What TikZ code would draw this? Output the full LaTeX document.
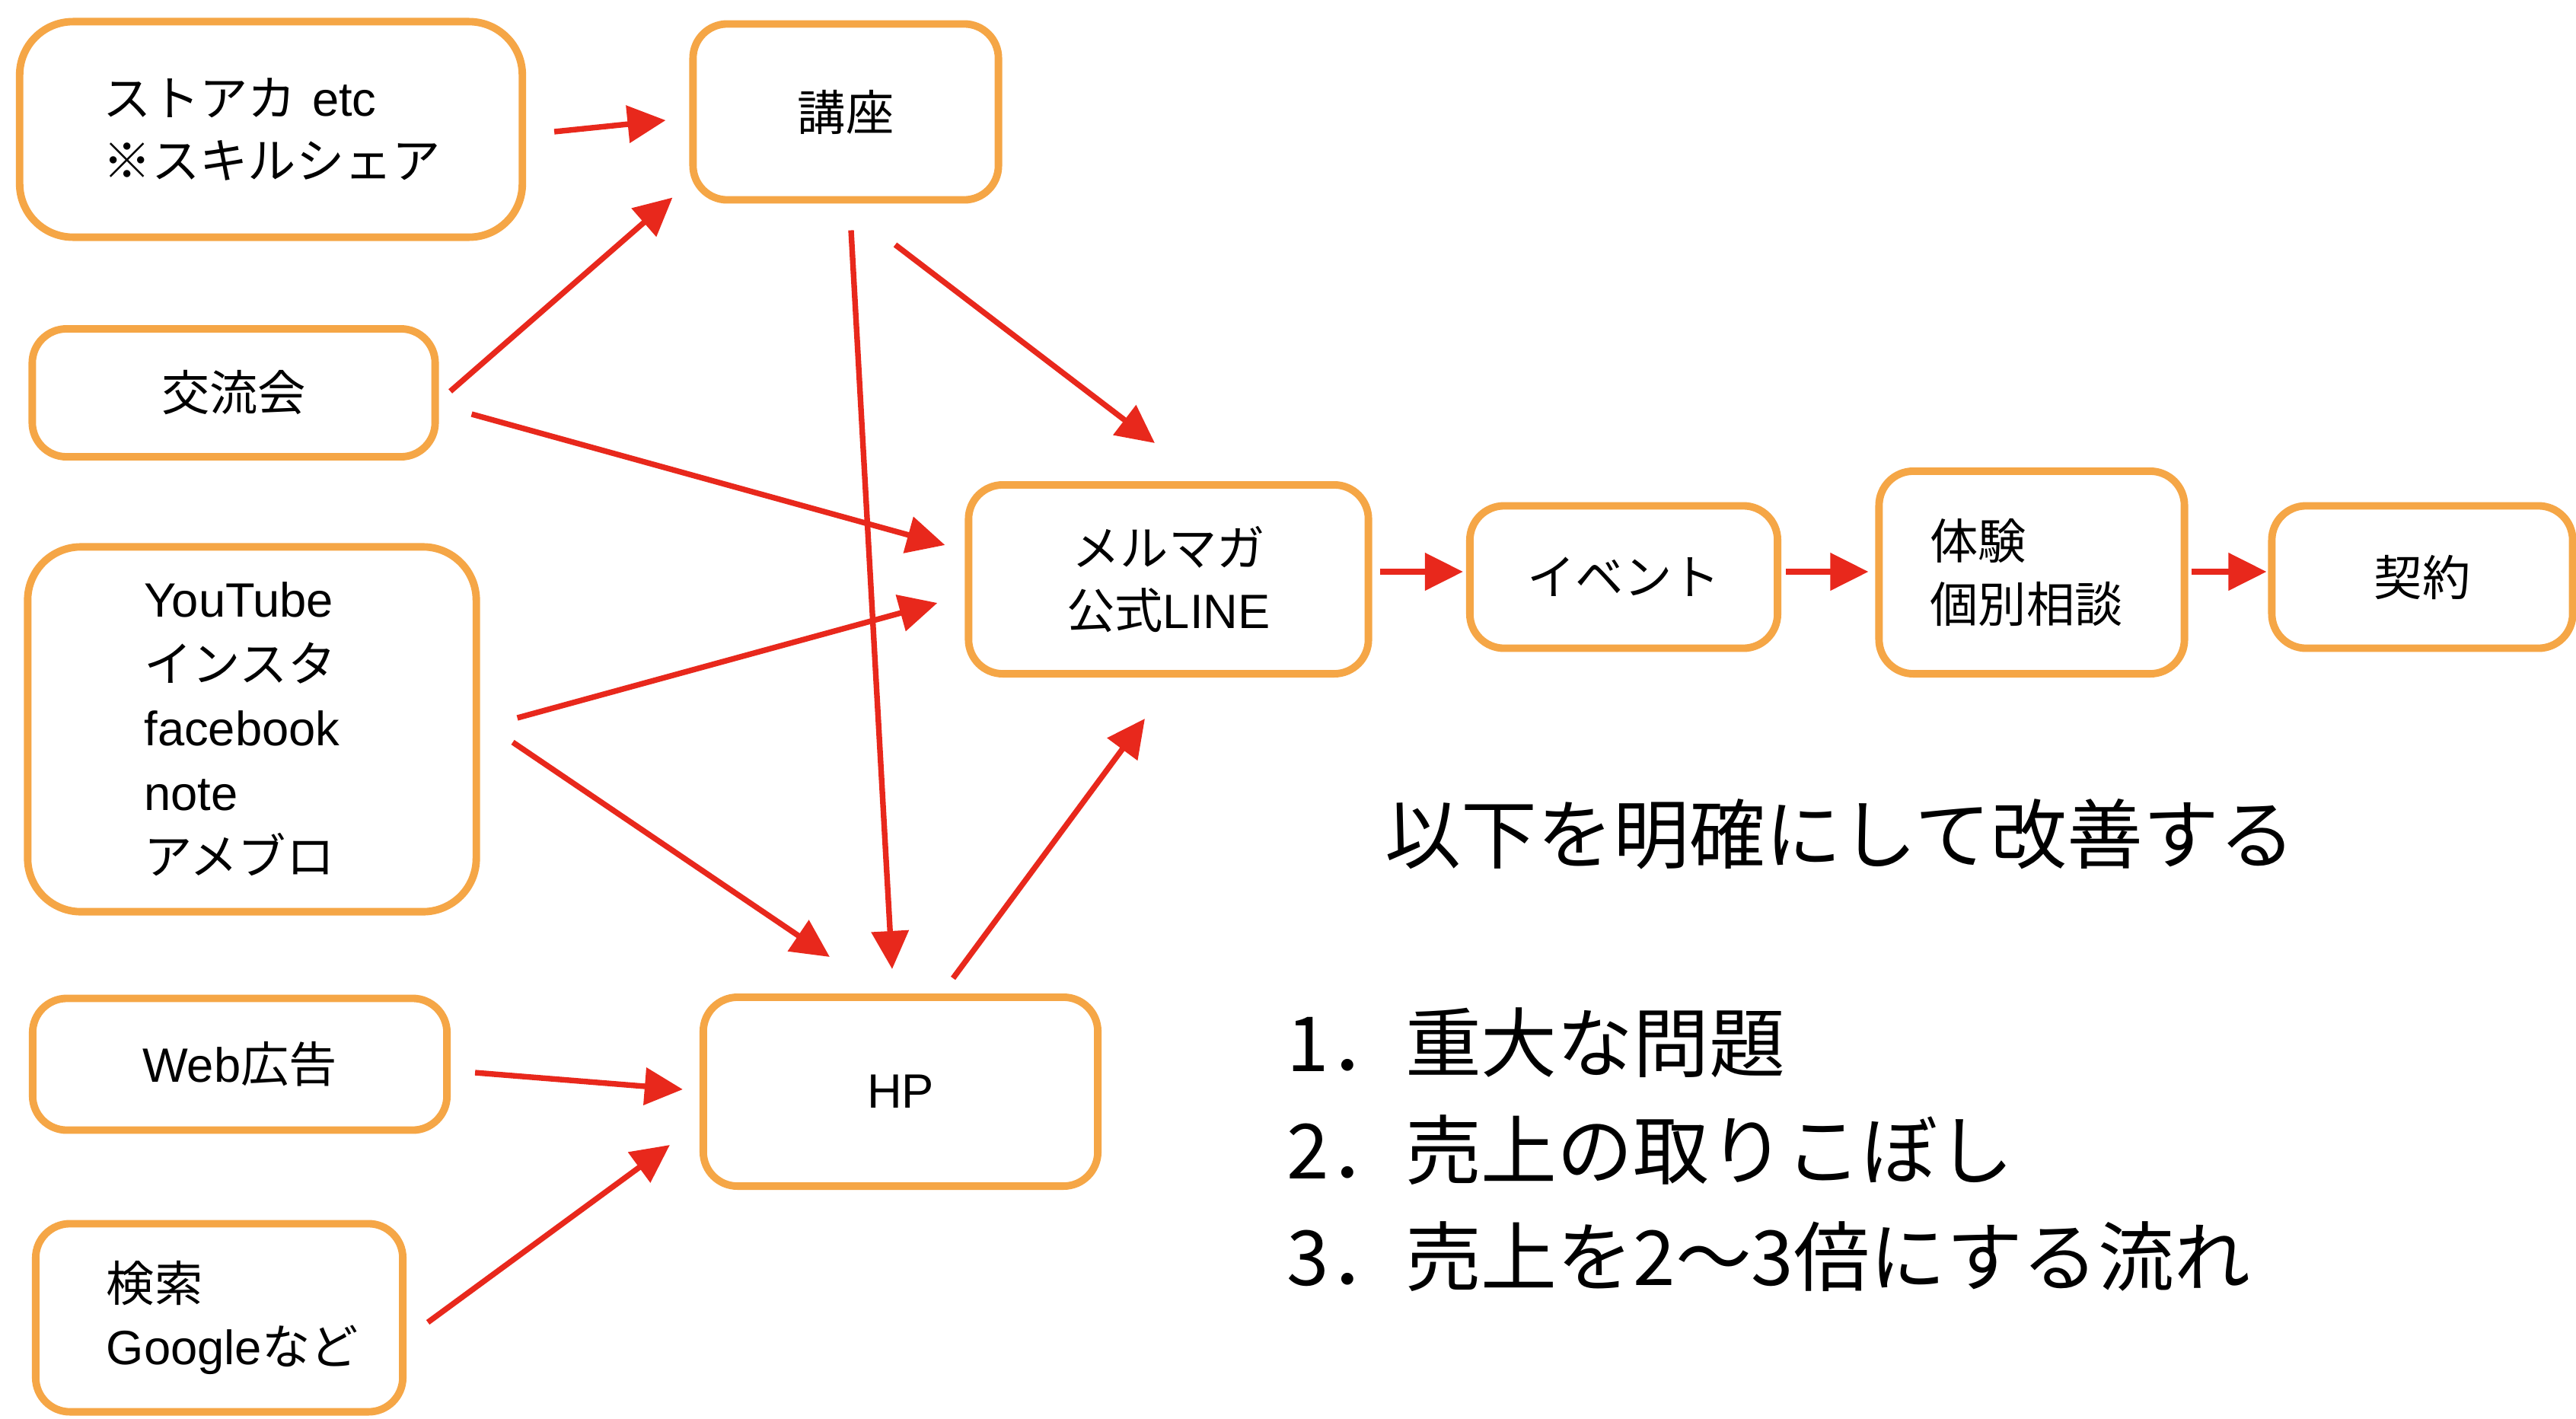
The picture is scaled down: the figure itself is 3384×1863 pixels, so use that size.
\documentclass[tikz,border=0pt]{standalone}
\usepackage{fontspec}
\setmainfont{Liberation Sans}
\newfontfamily\jp{Noto Sans CJK JP}
\usetikzlibrary{arrows.meta,calc}
\definecolor{boxorange}{RGB}{245,166,70}
\definecolor{arrred}{RGB}{232,40,28}
\begin{document}
\begin{tikzpicture}[x=0.01cm,y=-0.01cm,
  box/.style={draw=boxorange,line width=2.8pt,rounded corners=0.45cm,fill=white,
    font=\fontsize{18}{23.5}\selectfont,inner sep=0pt,align=center},
  bigbox/.style={box,rounded corners=0.7cm},
  arr/.style={draw=arrred,line width=2.1pt,-{Triangle[length=0.5cm,width=0.48cm]}},
  bigtext/.style={inner sep=0pt,anchor=west,font=\jp\fontsize{28.4}{40}\selectfont}]
\useasboundingbox[fill=white] (0,0) rectangle (3384,1863);

% left column
\node[bigbox,minimum width=6.6cm,minimum height=2.83cm,text width=4.4cm,inner xsep=1.1cm,align=left]
  (sutoaka) at (356,170) {{\jp ストアカ} etc\\{\jp ※スキルシェア}};
\node[box,minimum width=5.29cm,minimum height=1.68cm] (kouryu) at (307,516) {\jp 交流会};
\node[bigbox,minimum width=5.89cm,minimum height=4.79cm,text width=2.83cm,inner xsep=1.53cm,align=left,
  font=\fontsize{18}{24}\selectfont]
  (youtube) at (331,958) {YouTube\\{\jp インスタ}\\facebook\\note\\{\jp アメブロ}};
\node[box,minimum width=5.44cm,minimum height=1.73cm] (web) at (315,1398) {Web{\jp 広告}};
\node[box,minimum width=4.82cm,minimum height=2.47cm,text width=2.96cm,inner xsep=0.93cm,align=left]
  (kensaku) at (288,1731) {{\jp 検索}\\Google{\jp など}};

% middle
\node[box,minimum width=4.01cm,minimum height=2.31cm] (kouza) at (1111,147) {\jp 講座};
\node[box,minimum width=5.18cm,minimum height=2.48cm] (hp) at (1183,1434) {HP};
\node[box,minimum width=5.25cm,minimum height=2.48cm] (merumaga) at (1535,761) {{\jp メルマガ}\\{\jp 公式}LINE};

% right chain
\node[box,minimum width=4.04cm,minimum height=1.87cm] (event) at (2133,758) {\jp イベント};
\node[box,minimum width=4.01cm,minimum height=2.66cm,text width=2.67cm,inner xsep=0.67cm,align=left]
  (taiken) at (2669,752) {{\jp 体験}\\{\jp 個別相談}};
\node[box,minimum width=3.95cm,minimum height=1.87cm] (keiyaku) at (3182,758) {\jp 契約};

% texts
\node[bigtext] (title) at (1819,1096) {以下を明確にして改善する};
\node[bigtext] (item1) at (1690,1370) {1．重大な問題};
\node[bigtext] (item2) at (1690,1511) {2．売上の取りこぼし};
\node[bigtext] (item3) at (1690,1651) {3．売上を2〜3倍にする流れ};

% arrows
\draw[arr] ($(sutoaka.east)+(37,3)$) -- ($(kouza.west)+(-31,11)$);
\draw[arr] ($(kouryu.east)+(15,-2)$) -- ($(kouza.south west)+(-22,-8)$);
\draw[arr] ($(kouryu.east)+(43,28)$) -- ($(merumaga.west)+(-26,-45)$);
\draw[arr] ($(kouza.south)+(7,35)$) -- ($(hp.north)+(-11,-32)$);
\draw[arr] ($(kouza.south)+(65,54)$) -- ($(merumaga.north)+(-18,-50)$);
\draw[arr] ($(youtube.east)+(49,-15)$) -- ($(merumaga.west)+(-36,31)$);
\draw[arr] ($(youtube.east)+(43,17)$) -- ($(hp.north)+(-93,-48)$);
\draw[arr] ($(hp.north)+(69,-20)$) -- ($(merumaga.south)+(-31,54)$);
\draw[arr] ($(web.east)+(32,11)$) -- ($(hp.west)+(-22,-3)$);
\draw[arr] ($(kensaku.east)+(28,6)$) -- ($(hp.west)+(-39,70)$);
\draw[arr] ($(merumaga.east)+(10,-10)$) -- ($(event.west)+(-4,-7)$);
\draw[arr] ($(event.east)+(6,-7)$) -- ($(taiken.west)+(-9,-1)$);
\draw[arr] ($(taiken.east)+(4,-1)$) -- ($(keiyaku.west)+(-2,-7)$);
\end{tikzpicture}
\end{document}
